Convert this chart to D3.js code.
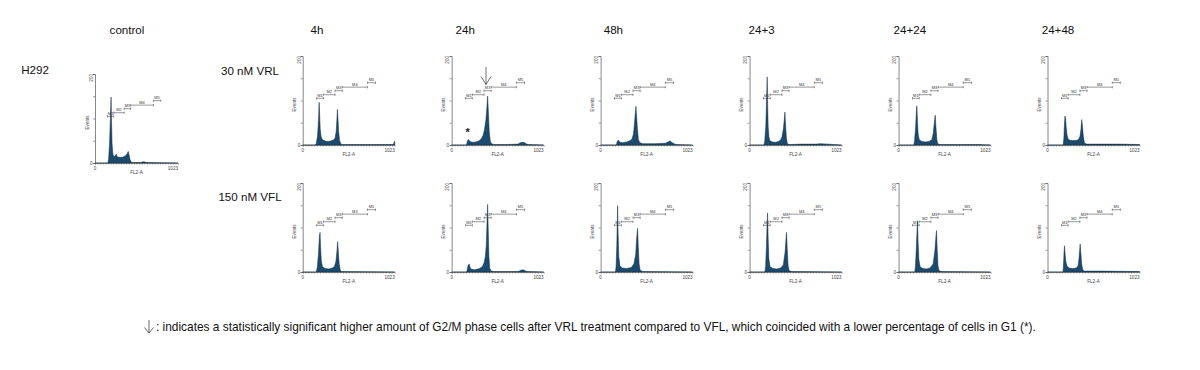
<!DOCTYPE html>
<html>
<head>
<meta charset="utf-8">
<script src="https://cdn.jsdelivr.net/npm/d3@7"></script>
<style>
  body { margin: 0; background: #fff; }
  svg { display: block; font-family: Arial, "Liberation Sans", sans-serif; }
</style>
</head>
<body>
<svg id="chart" width="1200" height="370"></svg>
<script>
// column titles and row labels
const timepoints = ["4h", "24h", "48h", "24+3", "24+24", "24+48"];
const treatments = ["30 nM VRL", "150 nM VFL"];
const cellLine = "H292";

// histograms as [FL2-A channel, events]
const controlHist = [[0,0],[160,0],[168,10],[178,40],[188,90],[195,130],[198,148],[203,100],[210,45],[220,20],[235,14],[250,16],[262,20],[272,14],[300,13],[340,13],[370,16],[395,20],[410,26],[420,18],[432,8],[445,2],[470,1],[560,1],[600,3],[640,1],[1023,0]];

const vrlHists = [
  [[0,0],[140,0],[150,3],[165,20],[175,55],[183,96],[188,70],[195,35],[205,18],[220,12],[250,9],[280,8],[310,9],[340,11],[360,15],[372,30],[380,55],[386,80],[392,60],[400,30],[410,10],[425,2],[440,1],[1000,1],[1012,2],[1018,8],[1023,8]],
  [[0,0],[165,0],[172,6],[180,11],[190,12],[200,9],[215,7],[240,6],[270,7],[300,9],[326,13],[350,22],[365,35],[380,55],[392,85],[400,110],[408,75],[418,30],[430,8],[445,3],[470,1],[600,1],[740,2],[760,5],[790,6],[815,5],[830,2],[860,1],[1023,0]],
  [[0,0],[175,0],[185,8],[196,11],[210,7],[240,5],[289,7],[330,10],[350,14],[365,25],[375,45],[385,70],[393,87],[400,65],[410,35],[420,12],[437,5],[470,3],[600,3],[720,4],[760,8],[775,9],[790,6],[815,3],[840,1],[1023,0]],
  [[0,0],[160,0],[168,8],[180,40],[190,110],[196,153],[201,90],[207,40],[215,18],[225,10],[250,7],[290,6],[320,8],[345,11],[360,18],[375,35],[385,55],[393,74],[400,45],[410,15],[420,3],[440,1],[580,2],[740,2],[790,3],[1023,0]],
  [[0,0],[170,0],[178,10],[190,40],[198,75],[204,88],[210,55],[218,25],[230,12],[260,8],[300,7],[340,8],[370,12],[385,25],[398,50],[408,67],[416,40],[426,12],[436,3],[460,1],[900,1],[1023,0]],
  [[0,0],[175,0],[182,15],[188,45],[194,65],[200,62],[208,40],[218,22],[230,13],[260,10],[300,10],[340,11],[360,18],[372,35],[380,57],[388,45],[398,20],[410,5],[430,2],[600,2],[800,2],[1023,1]]
];

const vflHists = [
  [[0,0],[150,0],[162,10],[175,40],[186,80],[193,89],[199,55],[207,25],[220,12],[250,8],[290,7],[330,9],[355,13],[370,25],[380,45],[389,68],[396,45],[406,18],[418,4],[430,1],[1023,0]],
  [[0,0],[168,0],[175,8],[185,16],[196,18],[205,10],[220,6],[250,5],[280,6],[310,8],[340,12],[360,20],[375,35],[385,60],[393,110],[400,152],[406,100],[414,35],[424,8],[440,2],[470,1],[740,1],[770,4],[795,5],[815,3],[840,1],[1023,0]],
  [[0,0],[165,0],[172,12],[180,60],[186,120],[189,149],[194,90],[202,35],[215,14],[240,9],[290,8],[340,10],[370,18],[390,40],[402,80],[411,98],[418,60],[428,18],[440,4],[470,1],[1023,0]],
  [[0,0],[170,0],[178,12],[188,60],[195,110],[200,133],[206,80],[214,30],[228,12],[260,8],[300,7],[345,9],[375,16],[395,45],[405,75],[411,89],[418,55],[428,15],[440,3],[470,1],[1023,0]],
  [[0,0],[180,0],[188,12],[198,55],[206,95],[211,115],[217,70],[226,28],[240,12],[270,8],[310,7],[350,9],[385,18],[405,50],[416,80],[422,93],[429,55],[438,15],[450,3],[480,1],[1023,0]],
  [[0,0],[172,0],[178,15],[184,45],[189,59],[196,40],[205,22],[218,13],[240,9],[280,8],[320,9],[340,14],[350,30],[358,50],[363,63],[370,45],[380,18],[392,5],[410,2],[600,2],[1023,1]]
];

// marker gates M1..M5
const markerNames = ["M1", "M2", "M3", "M4", "M5"];
const markerStart = [155, 230, 360, 440, 720];
const markerEnd = [230, 360, 440, 720, 810];
const markerLevel = [105, 113, 122, 130, 140];

const xTickLabels = [0, 1023];
const yTickLabels = [0, 200];
const xAxisTitle = "FL2-A";
const yAxisTitle = "Events";

// significance marks on the 24h VRL panel
const arrowChannel = 382;
const arrowLevels = [175, 136];
const starPoint = [178, 32];

const footnote = ": indicates a statistically significant higher amount of G2/M phase cells after VRL treatment compared to VFL, which coincided with a lower percentage of cells in G1 (*).";

const fillColor = "#1b4a6c";
const inkColor = "#555";

const svg = d3.select("#chart");

function drawPanel(left, base, w, h, data, extras) {
  const x = d3.scaleLinear().domain([0, 1023]).range([0, w]);
  const y = d3.scaleLinear().domain([0, 200]).range([0, -h]);
  const g = svg.append("g").attr("transform", `translate(${left},${base})`);

  const area = d3.area()
    .x((d) => x(d[0]))
    .y0(0)
    .y1((d) => y(d[1]));

  g.append("path")
    .datum(data)
    .attr("d", area)
    .attr("fill", fillColor)
    .attr("stroke", "#0f2d44")
    .attr("stroke-width", 0.5);

  // axes
  const xAxis = g.append("g").call(
    d3.axisBottom(x).tickValues(d3.range(0, 1024, 32)).tickSize(1.5).tickFormat("")
  );
  const yAxis = g.append("g").call(
    d3.axisLeft(y).tickValues([0, 50, 100, 150, 200]).tickSize(2).tickFormat("")
  );
  [xAxis, yAxis].forEach((a) => {
    a.select(".domain").attr("stroke", inkColor).attr("stroke-width", 0.7);
    a.selectAll(".tick line").attr("stroke", inkColor).attr("stroke-width", 0.6);
  });

  const fs = "4.6px", fc = "#444";
  g.append("text").attr("x", x(xTickLabels[0])).attr("y", 6.5)
    .attr("text-anchor", "middle").attr("font-size", fs).attr("fill", fc)
    .text(xTickLabels[0]);
  g.append("text").attr("x", x(xTickLabels[1])).attr("y", 6.5)
    .attr("text-anchor", "end").attr("font-size", fs).attr("fill", fc)
    .text(xTickLabels[1]);
  g.append("text").attr("x", w / 2).attr("y", 10.5)
    .attr("text-anchor", "middle").attr("font-size", fs).attr("fill", fc)
    .text(xAxisTitle);
  g.append("text").attr("x", -2.5).attr("y", 1.6)
    .attr("text-anchor", "end").attr("font-size", fs).attr("fill", fc)
    .text(yTickLabels[0]);
  g.append("text").attr("transform", `translate(-2.2,${y(yTickLabels[1])}) rotate(-90)`)
    .attr("text-anchor", "end").attr("font-size", fs).attr("fill", fc)
    .text(yTickLabels[1]);
  g.append("text").attr("transform", `translate(-6.5,${y(100) + 4}) rotate(-90)`)
    .attr("text-anchor", "middle").attr("font-size", fs).attr("fill", fc)
    .text(yAxisTitle);

  // marker gates
  markerNames.forEach((name, i) => {
    const x0 = x(markerStart[i]), x1 = x(markerEnd[i]), yy = y(markerLevel[i]);
    const m = g.append("g").attr("stroke", "#333").attr("stroke-width", 0.5);
    m.append("line").attr("x1", x0).attr("x2", x1).attr("y1", yy).attr("y2", yy);
    m.append("line").attr("x1", x0).attr("x2", x0).attr("y1", yy - 1.2).attr("y2", yy + 1.2);
    m.append("line").attr("x1", x1).attr("x2", x1).attr("y1", yy - 1.2).attr("y2", yy + 1.2);
    g.append("text").attr("x", (x0 + x1) / 2).attr("y", yy - 1.3)
      .attr("text-anchor", "middle").attr("font-size", "4px").attr("fill", "#333")
      .text(name);
  });

  if (extras) {
    const ax = x(arrowChannel), ya = y(arrowLevels[0]), yb = y(arrowLevels[1]);
    g.append("path")
      .attr("d", `M${ax},${ya}L${ax},${yb}M${ax - 5},${yb - 8}L${ax},${yb}L${ax + 5},${yb - 8}`)
      .attr("fill", "none").attr("stroke", "#333").attr("stroke-width", 0.7);
    g.append("text").attr("x", x(starPoint[0])).attr("y", y(starPoint[1]) + 5)
      .attr("text-anchor", "middle").attr("font-size", "11px").attr("font-weight", "bold")
      .attr("fill", "#222").text("*");
  }
}

// layout
const colX = d3.scaleLinear().domain([0, timepoints.length - 1]).range([302.7, 1047.5]);
const titleX = d3.scaleLinear().domain([0, timepoints.length - 1]).range([317, 1058]);
const rowBase = [145, 272];
const panelW = 92, panelH = 89;

const labelFont = "11.6px";

svg.append("text").attr("x", 127).attr("y", 34).attr("text-anchor", "middle")
  .attr("font-size", labelFont).attr("fill", "#111").text("control");
timepoints.forEach((t, i) => {
  svg.append("text").attr("x", titleX(i)).attr("y", 34).attr("text-anchor", "middle")
    .attr("font-size", labelFont).attr("fill", "#111").text(t);
});
svg.append("text").attr("x", 35).attr("y", 74).attr("text-anchor", "middle")
  .attr("font-size", labelFont).attr("fill", "#111").text(cellLine);
treatments.forEach((t, r) => {
  svg.append("text").attr("x", 250).attr("y", r === 0 ? 75 : 201).attr("text-anchor", "middle")
    .attr("font-size", labelFont).attr("fill", "#111").text(t);
});

drawPanel(95, 163, 83, 89, controlHist, false);
vrlHists.forEach((d, i) => drawPanel(colX(i), rowBase[0], panelW, panelH, d, i === 1));
vflHists.forEach((d, i) => drawPanel(colX(i), rowBase[1], panelW, panelH, d, false));

// footnote
svg.append("path")
  .attr("d", "M149,320L149,333M144.5,327.5L149,333L153.5,327.5")
  .attr("fill", "none").attr("stroke", "#444").attr("stroke-width", 0.8);
svg.append("text").attr("x", 156).attr("y", 330.5)
  .attr("font-size", "11.9px").attr("fill", "#111").text(footnote);
</script>
</body>
</html>
